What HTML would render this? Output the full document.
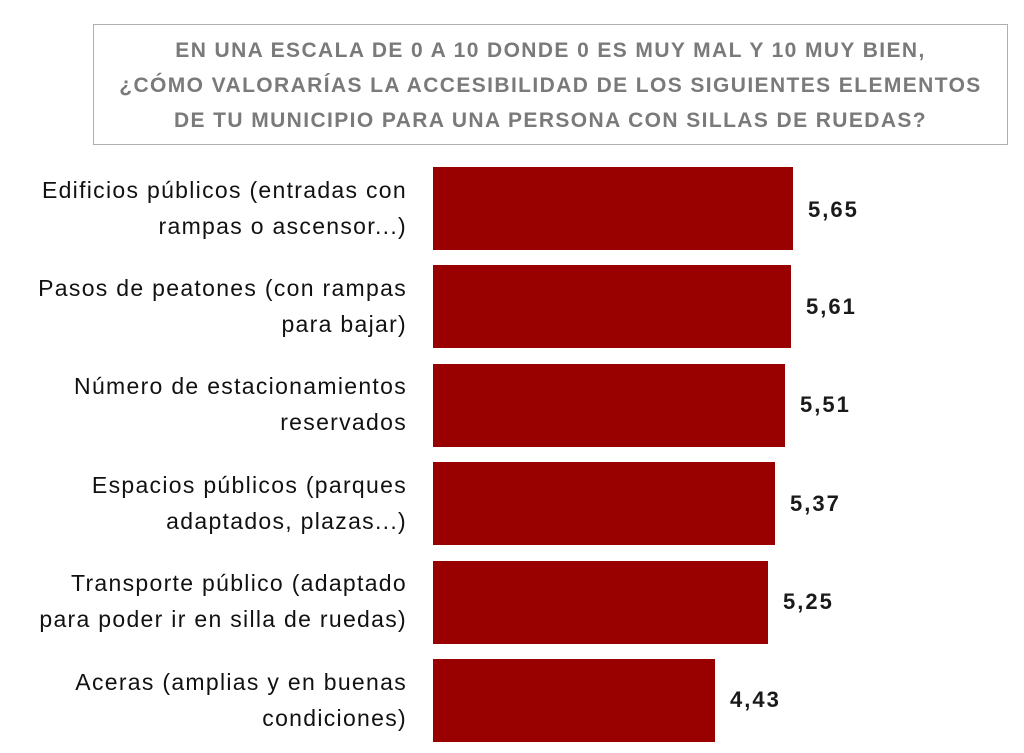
<!DOCTYPE html>
<html><head><meta charset="utf-8"><style>
body{margin:0;width:1024px;height:753px;background:#fff;position:relative;overflow:hidden;font-family:"Liberation Sans",sans-serif;}
.title{position:absolute;left:93px;top:24px;width:915px;height:121px;border:1.5px solid #b0b0b0;box-sizing:border-box;text-align:center;color:#7a7a7a;font-weight:bold;font-size:21px;line-height:35px;padding-top:8px;letter-spacing:1.4px;white-space:nowrap;}
.bar{position:absolute;left:433px;height:83px;background:#990000;}
.val{position:absolute;font-weight:bold;font-size:22px;letter-spacing:2px;color:#1a1a1a;}
.lab{position:absolute;right:617px;width:420px;text-align:right;font-size:23px;line-height:36px;letter-spacing:1.3px;color:#111;white-space:nowrap;}
</style></head><body>
<div class="title">EN UNA ESCALA DE 0 A 10 DONDE 0 ES MUY MAL Y 10 MUY BIEN,<br>¿CÓMO VALORARÍAS LA ACCESIBILIDAD DE LOS SIGUIENTES ELEMENTOS<br>DE TU MUNICIPIO PARA UNA PERSONA CON SILLAS DE RUEDAS?</div>

<div class="lab" style="top:172px">Edificios públicos (entradas con<br>rampas o ascensor...)</div>
<div class="bar" style="top:167px;width:360px"></div>
<div class="val" style="left:808px;top:197px">5,65</div>

<div class="lab" style="top:270px">Pasos de peatones (con rampas<br>para bajar)</div>
<div class="bar" style="top:265px;width:358px"></div>
<div class="val" style="left:806px;top:294px">5,61</div>

<div class="lab" style="top:368px">Número de estacionamientos<br>reservados</div>
<div class="bar" style="top:364px;width:352px"></div>
<div class="val" style="left:800px;top:392px">5,51</div>

<div class="lab" style="top:467px">Espacios públicos (parques<br>adaptados, plazas...)</div>
<div class="bar" style="top:462px;width:342px"></div>
<div class="val" style="left:790px;top:491px">5,37</div>

<div class="lab" style="top:565px">Transporte público (adaptado<br>para poder ir en silla de ruedas)</div>
<div class="bar" style="top:561px;width:335px"></div>
<div class="val" style="left:783px;top:589px">5,25</div>

<div class="lab" style="top:664px">Aceras (amplias y en buenas<br>condiciones)</div>
<div class="bar" style="top:659px;width:282px"></div>
<div class="val" style="left:730px;top:687px">4,43</div>
</body></html>
